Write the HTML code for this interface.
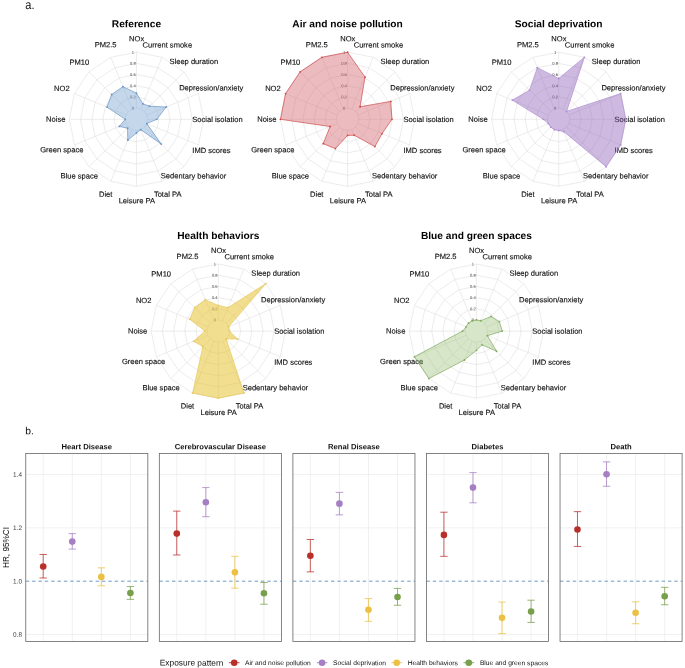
<!DOCTYPE html><html><head><meta charset="utf-8"><style>html,body{margin:0;padding:0;background:#fff;}svg{display:block;will-change:transform;}</style></head><body>
<svg width="685" height="668" viewBox="0 0 685 668" font-family='"Liberation Sans", sans-serif'>
<rect width="685" height="668" fill="#fff"/>
<text x="25.3" y="9.05" font-size="11" fill="#111" transform="translate(0 9.05) scale(1 1.15) translate(0 -9.05) rotate(0.05 25.3 9.05)">a.</text>
<text x="25.3" y="434.3" transform="rotate(0.05 25.3 434.3)" font-size="10.3" fill="#111">b.</text>
<g fill="none" stroke="#dcdcdc" stroke-width="0.55"><polygon points="136.45,108.12 140.73,108.97 144.36,111.39 146.78,115.02 147.63,119.3 146.78,123.58 144.36,127.21 140.73,129.63 136.45,130.48 132.17,129.63 128.54,127.21 126.12,123.58 125.27,119.3 126.12,115.02 128.54,111.39 132.17,108.97"/><polygon points="136.45,96.93 145.01,98.64 152.27,103.48 157.11,110.74 158.82,119.3 157.11,127.86 152.27,135.12 145.01,139.96 136.45,141.67 127.89,139.96 120.63,135.12 115.79,127.86 114.08,119.3 115.79,110.74 120.63,103.48 127.89,98.64"/><polygon points="136.45,85.75 149.29,88.3 160.17,95.58 167.45,106.46 170,119.3 167.45,132.14 160.17,143.02 149.29,150.3 136.45,152.85 123.61,150.3 112.73,143.02 105.45,132.14 102.9,119.3 105.45,106.46 112.73,95.58 123.61,88.3"/><polygon points="136.45,74.57 153.57,77.97 168.08,87.67 177.78,102.18 181.18,119.3 177.78,136.42 168.08,150.93 153.57,160.63 136.45,164.03 119.33,160.63 104.82,150.93 95.12,136.42 91.72,119.3 95.12,102.18 104.82,87.67 119.33,77.97"/><polygon points="136.45,63.38 157.85,67.64 175.99,79.76 188.11,97.9 192.37,119.3 188.11,140.7 175.99,158.84 157.85,170.96 136.45,175.22 115.05,170.96 96.91,158.84 84.79,140.7 80.53,119.3 84.79,97.9 96.91,79.76 115.05,67.64"/><polygon points="136.45,52.2 162.13,57.31 183.9,71.85 198.44,93.62 203.55,119.3 198.44,144.98 183.9,166.75 162.13,181.29 136.45,186.4 110.77,181.29 89,166.75 74.46,144.98 69.35,119.3 74.46,93.62 89,71.85 110.77,57.31"/><line x1="136.45" y1="108.12" x2="136.45" y2="52.2"/><line x1="140.73" y1="108.97" x2="162.13" y2="57.31"/><line x1="144.36" y1="111.39" x2="183.9" y2="71.85"/><line x1="146.78" y1="115.02" x2="198.44" y2="93.62"/><line x1="147.63" y1="119.3" x2="203.55" y2="119.3"/><line x1="146.78" y1="123.58" x2="198.44" y2="144.98"/><line x1="144.36" y1="127.21" x2="183.9" y2="166.75"/><line x1="140.73" y1="129.63" x2="162.13" y2="181.29"/><line x1="136.45" y1="130.48" x2="136.45" y2="186.4"/><line x1="132.17" y1="129.63" x2="110.77" y2="181.29"/><line x1="128.54" y1="127.21" x2="89" y2="166.75"/><line x1="126.12" y1="123.58" x2="74.46" y2="144.98"/><line x1="125.27" y1="119.3" x2="69.35" y2="119.3"/><line x1="126.12" y1="115.02" x2="74.46" y2="93.62"/><line x1="128.54" y1="111.39" x2="89" y2="71.85"/><line x1="132.17" y1="108.97" x2="110.77" y2="57.31"/></g>
<g font-size="4.1" fill="#3a3a3a" text-anchor="middle"><text x="132.95" y="109.57" transform="rotate(0.05 132.95 109.57)">0</text><text x="132.95" y="98.38" transform="rotate(0.05 132.95 98.38)">0.2</text><text x="132.95" y="87.2" transform="rotate(0.05 132.95 87.2)">0.4</text><text x="132.95" y="76.02" transform="rotate(0.05 132.95 76.02)">0.6</text><text x="132.95" y="64.83" transform="rotate(0.05 132.95 64.83)">0.8</text><text x="132.95" y="53.65" transform="rotate(0.05 132.95 53.65)">1</text></g>
<g font-size="7.55" fill="#111" stroke="#111" stroke-width="0.14" text-anchor="middle"><text x="136.65" y="41.24" transform="rotate(0.05 136.65 41.24)">NOx</text><text x="167.35" y="47.5" transform="rotate(0.05 167.35 47.5)">Current smoke</text><text x="193.85" y="64" transform="rotate(0.05 193.85 64)">Sleep duration</text><text x="211.25" y="90.4" transform="rotate(0.05 211.25 90.4)">Depression/anxiety</text><text x="217.45" y="122" transform="rotate(0.05 217.45 122)">Social isolation</text><text x="211.45" y="153" transform="rotate(0.05 211.45 153)">IMD scores</text><text x="193.55" y="178.4" transform="rotate(0.05 193.55 178.4)">Sedentary behavior</text><text x="167.65" y="196.8" transform="rotate(0.05 167.65 196.8)">Total PA</text><text x="136.85" y="203.3" transform="rotate(0.05 136.85 203.3)">Leisure PA</text><text x="105.65" y="196.8" transform="rotate(0.05 105.65 196.8)">Diet</text><text x="79.25" y="178.4" transform="rotate(0.05 79.25 178.4)">Blue space</text><text x="61.75" y="152.3" transform="rotate(0.05 61.75 152.3)">Green space</text><text x="55.75" y="121.8" transform="rotate(0.05 55.75 121.8)">Noise</text><text x="61.85" y="91.1" transform="rotate(0.05 61.85 91.1)">NO2</text><text x="79.35" y="64.7" transform="rotate(0.05 79.35 64.7)">PM10</text><text x="105.65" y="47.2" transform="rotate(0.05 105.65 47.2)">PM2.5</text></g>
<polygon points="136.45,93.24 142.87,103.8 149.54,106.21 166.15,107 156.8,119.3 146.78,123.58 161.24,144.09 140.73,129.63 136.45,132.94 127.78,140.22 127.59,128.16 119.3,126.4 125.27,119.3 107,107.1 111.66,94.51 122.93,86.65" fill="#7ea6d2" fill-opacity="0.45" stroke="none"/>
<polygon points="136.45,93.24 142.87,103.8 149.54,106.21 166.15,107 156.8,119.3 146.78,123.58 161.24,144.09 140.73,129.63 136.45,132.94 127.78,140.22 127.59,128.16 119.3,126.4 125.27,119.3 107,107.1 111.66,94.51 122.93,86.65" fill="none" stroke="#6893c8" stroke-width="0.7" stroke-linejoin="round"/>
<g fill="#6893c8"><circle cx="136.45" cy="93.24" r="0.9"/><circle cx="142.87" cy="103.8" r="0.9"/><circle cx="149.54" cy="106.21" r="0.9"/><circle cx="166.15" cy="107" r="0.9"/><circle cx="156.8" cy="119.3" r="0.9"/><circle cx="146.78" cy="123.58" r="0.9"/><circle cx="161.24" cy="144.09" r="0.9"/><circle cx="140.73" cy="129.63" r="0.9"/><circle cx="136.45" cy="132.94" r="0.9"/><circle cx="127.78" cy="140.22" r="0.9"/><circle cx="127.59" cy="128.16" r="0.9"/><circle cx="119.3" cy="126.4" r="0.9"/><circle cx="125.27" cy="119.3" r="0.9"/><circle cx="107" cy="107.1" r="0.9"/><circle cx="111.66" cy="94.51" r="0.9"/><circle cx="122.93" cy="86.65" r="0.9"/></g>
<text x="136.45" y="27.2" transform="rotate(0.05 136.45 27.2)" font-size="10.2" font-weight="bold" text-anchor="middle" fill="#000">Reference</text>
<g fill="none" stroke="#dcdcdc" stroke-width="0.55"><polygon points="347.55,108.12 351.83,108.97 355.46,111.39 357.88,115.02 358.73,119.3 357.88,123.58 355.46,127.21 351.83,129.63 347.55,130.48 343.27,129.63 339.64,127.21 337.22,123.58 336.37,119.3 337.22,115.02 339.64,111.39 343.27,108.97"/><polygon points="347.55,96.93 356.11,98.64 363.37,103.48 368.21,110.74 369.92,119.3 368.21,127.86 363.37,135.12 356.11,139.96 347.55,141.67 338.99,139.96 331.73,135.12 326.89,127.86 325.18,119.3 326.89,110.74 331.73,103.48 338.99,98.64"/><polygon points="347.55,85.75 360.39,88.3 371.27,95.58 378.55,106.46 381.1,119.3 378.55,132.14 371.27,143.02 360.39,150.3 347.55,152.85 334.71,150.3 323.83,143.02 316.55,132.14 314,119.3 316.55,106.46 323.83,95.58 334.71,88.3"/><polygon points="347.55,74.57 364.67,77.97 379.18,87.67 388.88,102.18 392.28,119.3 388.88,136.42 379.18,150.93 364.67,160.63 347.55,164.03 330.43,160.63 315.92,150.93 306.22,136.42 302.82,119.3 306.22,102.18 315.92,87.67 330.43,77.97"/><polygon points="347.55,63.38 368.95,67.64 387.09,79.76 399.21,97.9 403.47,119.3 399.21,140.7 387.09,158.84 368.95,170.96 347.55,175.22 326.15,170.96 308.01,158.84 295.89,140.7 291.63,119.3 295.89,97.9 308.01,79.76 326.15,67.64"/><polygon points="347.55,52.2 373.23,57.31 395,71.85 409.54,93.62 414.65,119.3 409.54,144.98 395,166.75 373.23,181.29 347.55,186.4 321.87,181.29 300.1,166.75 285.56,144.98 280.45,119.3 285.56,93.62 300.1,71.85 321.87,57.31"/><line x1="347.55" y1="108.12" x2="347.55" y2="52.2"/><line x1="351.83" y1="108.97" x2="373.23" y2="57.31"/><line x1="355.46" y1="111.39" x2="395" y2="71.85"/><line x1="357.88" y1="115.02" x2="409.54" y2="93.62"/><line x1="358.73" y1="119.3" x2="414.65" y2="119.3"/><line x1="357.88" y1="123.58" x2="409.54" y2="144.98"/><line x1="355.46" y1="127.21" x2="395" y2="166.75"/><line x1="351.83" y1="129.63" x2="373.23" y2="181.29"/><line x1="347.55" y1="130.48" x2="347.55" y2="186.4"/><line x1="343.27" y1="129.63" x2="321.87" y2="181.29"/><line x1="339.64" y1="127.21" x2="300.1" y2="166.75"/><line x1="337.22" y1="123.58" x2="285.56" y2="144.98"/><line x1="336.37" y1="119.3" x2="280.45" y2="119.3"/><line x1="337.22" y1="115.02" x2="285.56" y2="93.62"/><line x1="339.64" y1="111.39" x2="300.1" y2="71.85"/><line x1="343.27" y1="108.97" x2="321.87" y2="57.31"/></g>
<g font-size="4.1" fill="#3a3a3a" text-anchor="middle"><text x="344.05" y="109.57" transform="rotate(0.05 344.05 109.57)">0</text><text x="344.05" y="98.38" transform="rotate(0.05 344.05 98.38)">0.2</text><text x="344.05" y="87.2" transform="rotate(0.05 344.05 87.2)">0.4</text><text x="344.05" y="76.02" transform="rotate(0.05 344.05 76.02)">0.6</text><text x="344.05" y="64.83" transform="rotate(0.05 344.05 64.83)">0.8</text><text x="344.05" y="53.65" transform="rotate(0.05 344.05 53.65)">1</text></g>
<g font-size="7.55" fill="#111" stroke="#111" stroke-width="0.14" text-anchor="middle"><text x="347.75" y="41.24" transform="rotate(0.05 347.75 41.24)">NOx</text><text x="378.45" y="47.5" transform="rotate(0.05 378.45 47.5)">Current smoke</text><text x="404.95" y="64" transform="rotate(0.05 404.95 64)">Sleep duration</text><text x="422.35" y="90.4" transform="rotate(0.05 422.35 90.4)">Depression/anxiety</text><text x="428.55" y="122" transform="rotate(0.05 428.55 122)">Social isolation</text><text x="422.55" y="153" transform="rotate(0.05 422.55 153)">IMD scores</text><text x="404.65" y="178.4" transform="rotate(0.05 404.65 178.4)">Sedentary behavior</text><text x="378.75" y="196.8" transform="rotate(0.05 378.75 196.8)">Total PA</text><text x="347.95" y="203.3" transform="rotate(0.05 347.95 203.3)">Leisure PA</text><text x="316.75" y="196.8" transform="rotate(0.05 316.75 196.8)">Diet</text><text x="290.35" y="178.4" transform="rotate(0.05 290.35 178.4)">Blue space</text><text x="272.85" y="152.3" transform="rotate(0.05 272.85 152.3)">Green space</text><text x="266.85" y="121.8" transform="rotate(0.05 266.85 121.8)">Noise</text><text x="272.95" y="91.1" transform="rotate(0.05 272.95 91.1)">NO2</text><text x="290.45" y="64.7" transform="rotate(0.05 290.45 64.7)">PM10</text><text x="316.75" y="47.2" transform="rotate(0.05 316.75 47.2)">PM2.5</text></g>
<polygon points="347.55,52.2 365.03,77.09 360.08,106.77 390.79,101.39 391.95,119.3 382.06,133.59 374.87,146.62 354.12,135.16 347.55,135.4 335.44,148.54 323.19,143.66 330.14,126.51 280.45,119.3 285.56,93.62 300.1,71.85 321.87,57.31" fill="#d26871" fill-opacity="0.45" stroke="none"/>
<polygon points="347.55,52.2 365.03,77.09 360.08,106.77 390.79,101.39 391.95,119.3 382.06,133.59 374.87,146.62 354.12,135.16 347.55,135.4 335.44,148.54 323.19,143.66 330.14,126.51 280.45,119.3 285.56,93.62 300.1,71.85 321.87,57.31" fill="none" stroke="#d04a4a" stroke-width="0.7" stroke-linejoin="round"/>
<g fill="#d04a4a"><circle cx="347.55" cy="52.2" r="0.9"/><circle cx="365.03" cy="77.09" r="0.9"/><circle cx="360.08" cy="106.77" r="0.9"/><circle cx="390.79" cy="101.39" r="0.9"/><circle cx="391.95" cy="119.3" r="0.9"/><circle cx="382.06" cy="133.59" r="0.9"/><circle cx="374.87" cy="146.62" r="0.9"/><circle cx="354.12" cy="135.16" r="0.9"/><circle cx="347.55" cy="135.4" r="0.9"/><circle cx="335.44" cy="148.54" r="0.9"/><circle cx="323.19" cy="143.66" r="0.9"/><circle cx="330.14" cy="126.51" r="0.9"/><circle cx="280.45" cy="119.3" r="0.9"/><circle cx="285.56" cy="93.62" r="0.9"/><circle cx="300.1" cy="71.85" r="0.9"/><circle cx="321.87" cy="57.31" r="0.9"/></g>
<text x="347.55" y="27.2" transform="rotate(0.05 347.55 27.2)" font-size="10.2" font-weight="bold" text-anchor="middle" fill="#000">Air and noise pollution</text>
<g fill="none" stroke="#dcdcdc" stroke-width="0.55"><polygon points="558.7,108.12 562.98,108.97 566.61,111.39 569.03,115.02 569.88,119.3 569.03,123.58 566.61,127.21 562.98,129.63 558.7,130.48 554.42,129.63 550.79,127.21 548.37,123.58 547.52,119.3 548.37,115.02 550.79,111.39 554.42,108.97"/><polygon points="558.7,96.93 567.26,98.64 574.52,103.48 579.36,110.74 581.07,119.3 579.36,127.86 574.52,135.12 567.26,139.96 558.7,141.67 550.14,139.96 542.88,135.12 538.04,127.86 536.33,119.3 538.04,110.74 542.88,103.48 550.14,98.64"/><polygon points="558.7,85.75 571.54,88.3 582.42,95.58 589.7,106.46 592.25,119.3 589.7,132.14 582.42,143.02 571.54,150.3 558.7,152.85 545.86,150.3 534.98,143.02 527.7,132.14 525.15,119.3 527.7,106.46 534.98,95.58 545.86,88.3"/><polygon points="558.7,74.57 575.82,77.97 590.33,87.67 600.03,102.18 603.43,119.3 600.03,136.42 590.33,150.93 575.82,160.63 558.7,164.03 541.58,160.63 527.07,150.93 517.37,136.42 513.97,119.3 517.37,102.18 527.07,87.67 541.58,77.97"/><polygon points="558.7,63.38 580.1,67.64 598.24,79.76 610.36,97.9 614.62,119.3 610.36,140.7 598.24,158.84 580.1,170.96 558.7,175.22 537.3,170.96 519.16,158.84 507.04,140.7 502.78,119.3 507.04,97.9 519.16,79.76 537.3,67.64"/><polygon points="558.7,52.2 584.38,57.31 606.15,71.85 620.69,93.62 625.8,119.3 620.69,144.98 606.15,166.75 584.38,181.29 558.7,186.4 533.02,181.29 511.25,166.75 496.71,144.98 491.6,119.3 496.71,93.62 511.25,71.85 533.02,57.31"/><line x1="558.7" y1="108.12" x2="558.7" y2="52.2"/><line x1="562.98" y1="108.97" x2="584.38" y2="57.31"/><line x1="566.61" y1="111.39" x2="606.15" y2="71.85"/><line x1="569.03" y1="115.02" x2="620.69" y2="93.62"/><line x1="569.88" y1="119.3" x2="625.8" y2="119.3"/><line x1="569.03" y1="123.58" x2="620.69" y2="144.98"/><line x1="566.61" y1="127.21" x2="606.15" y2="166.75"/><line x1="562.98" y1="129.63" x2="584.38" y2="181.29"/><line x1="558.7" y1="130.48" x2="558.7" y2="186.4"/><line x1="554.42" y1="129.63" x2="533.02" y2="181.29"/><line x1="550.79" y1="127.21" x2="511.25" y2="166.75"/><line x1="548.37" y1="123.58" x2="496.71" y2="144.98"/><line x1="547.52" y1="119.3" x2="491.6" y2="119.3"/><line x1="548.37" y1="115.02" x2="496.71" y2="93.62"/><line x1="550.79" y1="111.39" x2="511.25" y2="71.85"/><line x1="554.42" y1="108.97" x2="533.02" y2="57.31"/></g>
<g font-size="4.1" fill="#3a3a3a" text-anchor="middle"><text x="555.2" y="109.57" transform="rotate(0.05 555.2 109.57)">0</text><text x="555.2" y="98.38" transform="rotate(0.05 555.2 98.38)">0.2</text><text x="555.2" y="87.2" transform="rotate(0.05 555.2 87.2)">0.4</text><text x="555.2" y="76.02" transform="rotate(0.05 555.2 76.02)">0.6</text><text x="555.2" y="64.83" transform="rotate(0.05 555.2 64.83)">0.8</text><text x="555.2" y="53.65" transform="rotate(0.05 555.2 53.65)">1</text></g>
<g font-size="7.55" fill="#111" stroke="#111" stroke-width="0.14" text-anchor="middle"><text x="558.9" y="41.24" transform="rotate(0.05 558.9 41.24)">NOx</text><text x="589.6" y="47.5" transform="rotate(0.05 589.6 47.5)">Current smoke</text><text x="616.1" y="64" transform="rotate(0.05 616.1 64)">Sleep duration</text><text x="633.5" y="90.4" transform="rotate(0.05 633.5 90.4)">Depression/anxiety</text><text x="639.7" y="122" transform="rotate(0.05 639.7 122)">Social isolation</text><text x="633.7" y="153" transform="rotate(0.05 633.7 153)">IMD scores</text><text x="615.8" y="178.4" transform="rotate(0.05 615.8 178.4)">Sedentary behavior</text><text x="589.9" y="196.8" transform="rotate(0.05 589.9 196.8)">Total PA</text><text x="559.1" y="203.3" transform="rotate(0.05 559.1 203.3)">Leisure PA</text><text x="527.9" y="196.8" transform="rotate(0.05 527.9 196.8)">Diet</text><text x="501.5" y="178.4" transform="rotate(0.05 501.5 178.4)">Blue space</text><text x="484" y="152.3" transform="rotate(0.05 484 152.3)">Green space</text><text x="478" y="121.8" transform="rotate(0.05 478 121.8)">Noise</text><text x="484.1" y="91.1" transform="rotate(0.05 484.1 91.1)">NO2</text><text x="501.6" y="64.7" transform="rotate(0.05 501.6 64.7)">PM10</text><text x="527.9" y="47.2" transform="rotate(0.05 527.9 47.2)">PM2.5</text></g>
<polygon points="558.7,78.48 584.38,57.31 566.61,111.39 620.69,93.62 625.8,119.3 620.69,144.98 606.15,166.75 563.84,131.7 558.7,130.48 554.42,129.63 550.79,127.21 548.37,123.58 543.32,119.3 512.36,100.11 529.56,90.16 537.3,67.64" fill="#8b5ab8" fill-opacity="0.42" stroke="none"/>
<polygon points="558.7,78.48 584.38,57.31 566.61,111.39 620.69,93.62 625.8,119.3 620.69,144.98 606.15,166.75 563.84,131.7 558.7,130.48 554.42,129.63 550.79,127.21 548.37,123.58 543.32,119.3 512.36,100.11 529.56,90.16 537.3,67.64" fill="none" stroke="#b08fd0" stroke-width="0.7" stroke-linejoin="round"/>
<g fill="#b08fd0"><circle cx="558.7" cy="78.48" r="0.9"/><circle cx="584.38" cy="57.31" r="0.9"/><circle cx="566.61" cy="111.39" r="0.9"/><circle cx="620.69" cy="93.62" r="0.9"/><circle cx="625.8" cy="119.3" r="0.9"/><circle cx="620.69" cy="144.98" r="0.9"/><circle cx="606.15" cy="166.75" r="0.9"/><circle cx="563.84" cy="131.7" r="0.9"/><circle cx="558.7" cy="130.48" r="0.9"/><circle cx="554.42" cy="129.63" r="0.9"/><circle cx="550.79" cy="127.21" r="0.9"/><circle cx="548.37" cy="123.58" r="0.9"/><circle cx="543.32" cy="119.3" r="0.9"/><circle cx="512.36" cy="100.11" r="0.9"/><circle cx="529.56" cy="90.16" r="0.9"/><circle cx="537.3" cy="67.64" r="0.9"/></g>
<text x="558.7" y="27.2" transform="rotate(0.05 558.7 27.2)" font-size="10.2" font-weight="bold" text-anchor="middle" fill="#000">Social deprivation</text>
<g fill="none" stroke="#dcdcdc" stroke-width="0.55"><polygon points="218.3,319.92 222.58,320.77 226.21,323.19 228.63,326.82 229.48,331.1 228.63,335.38 226.21,339.01 222.58,341.43 218.3,342.28 214.02,341.43 210.39,339.01 207.97,335.38 207.12,331.1 207.97,326.82 210.39,323.19 214.02,320.77"/><polygon points="218.3,308.73 226.86,310.44 234.12,315.28 238.96,322.54 240.67,331.1 238.96,339.66 234.12,346.92 226.86,351.76 218.3,353.47 209.74,351.76 202.48,346.92 197.64,339.66 195.93,331.1 197.64,322.54 202.48,315.28 209.74,310.44"/><polygon points="218.3,297.55 231.14,300.1 242.02,307.38 249.3,318.26 251.85,331.1 249.3,343.94 242.02,354.82 231.14,362.1 218.3,364.65 205.46,362.1 194.58,354.82 187.3,343.94 184.75,331.1 187.3,318.26 194.58,307.38 205.46,300.1"/><polygon points="218.3,286.37 235.42,289.77 249.93,299.47 259.63,313.98 263.03,331.1 259.63,348.22 249.93,362.73 235.42,372.43 218.3,375.83 201.18,372.43 186.67,362.73 176.97,348.22 173.57,331.1 176.97,313.98 186.67,299.47 201.18,289.77"/><polygon points="218.3,275.18 239.7,279.44 257.84,291.56 269.96,309.7 274.22,331.1 269.96,352.5 257.84,370.64 239.7,382.76 218.3,387.02 196.9,382.76 178.76,370.64 166.64,352.5 162.38,331.1 166.64,309.7 178.76,291.56 196.9,279.44"/><polygon points="218.3,264 243.98,269.11 265.75,283.65 280.29,305.42 285.4,331.1 280.29,356.78 265.75,378.55 243.98,393.09 218.3,398.2 192.62,393.09 170.85,378.55 156.31,356.78 151.2,331.1 156.31,305.42 170.85,283.65 192.62,269.11"/><line x1="218.3" y1="319.92" x2="218.3" y2="264"/><line x1="222.58" y1="320.77" x2="243.98" y2="269.11"/><line x1="226.21" y1="323.19" x2="265.75" y2="283.65"/><line x1="228.63" y1="326.82" x2="280.29" y2="305.42"/><line x1="229.48" y1="331.1" x2="285.4" y2="331.1"/><line x1="228.63" y1="335.38" x2="280.29" y2="356.78"/><line x1="226.21" y1="339.01" x2="265.75" y2="378.55"/><line x1="222.58" y1="341.43" x2="243.98" y2="393.09"/><line x1="218.3" y1="342.28" x2="218.3" y2="398.2"/><line x1="214.02" y1="341.43" x2="192.62" y2="393.09"/><line x1="210.39" y1="339.01" x2="170.85" y2="378.55"/><line x1="207.97" y1="335.38" x2="156.31" y2="356.78"/><line x1="207.12" y1="331.1" x2="151.2" y2="331.1"/><line x1="207.97" y1="326.82" x2="156.31" y2="305.42"/><line x1="210.39" y1="323.19" x2="170.85" y2="283.65"/><line x1="214.02" y1="320.77" x2="192.62" y2="269.11"/></g>
<g font-size="4.1" fill="#3a3a3a" text-anchor="middle"><text x="214.8" y="321.37" transform="rotate(0.05 214.8 321.37)">0</text><text x="214.8" y="310.18" transform="rotate(0.05 214.8 310.18)">0.2</text><text x="214.8" y="299" transform="rotate(0.05 214.8 299)">0.4</text><text x="214.8" y="287.82" transform="rotate(0.05 214.8 287.82)">0.6</text><text x="214.8" y="276.63" transform="rotate(0.05 214.8 276.63)">0.8</text><text x="214.8" y="265.45" transform="rotate(0.05 214.8 265.45)">1</text></g>
<g font-size="7.55" fill="#111" stroke="#111" stroke-width="0.14" text-anchor="middle"><text x="218.5" y="253.04" transform="rotate(0.05 218.5 253.04)">NOx</text><text x="249.2" y="259.3" transform="rotate(0.05 249.2 259.3)">Current smoke</text><text x="275.7" y="275.8" transform="rotate(0.05 275.7 275.8)">Sleep duration</text><text x="293.1" y="302.2" transform="rotate(0.05 293.1 302.2)">Depression/anxiety</text><text x="299.3" y="333.8" transform="rotate(0.05 299.3 333.8)">Social isolation</text><text x="293.3" y="364.8" transform="rotate(0.05 293.3 364.8)">IMD scores</text><text x="275.4" y="390.2" transform="rotate(0.05 275.4 390.2)">Sedentary behavior</text><text x="249.5" y="408.6" transform="rotate(0.05 249.5 408.6)">Total PA</text><text x="218.7" y="415.1" transform="rotate(0.05 218.7 415.1)">Leisure PA</text><text x="187.5" y="408.6" transform="rotate(0.05 187.5 408.6)">Diet</text><text x="161.1" y="390.2" transform="rotate(0.05 161.1 390.2)">Blue space</text><text x="143.6" y="364.1" transform="rotate(0.05 143.6 364.1)">Green space</text><text x="137.6" y="333.6" transform="rotate(0.05 137.6 333.6)">Noise</text><text x="143.7" y="302.9" transform="rotate(0.05 143.7 302.9)">NO2</text><text x="161.2" y="276.5" transform="rotate(0.05 161.2 276.5)">PM10</text><text x="187.5" y="259" transform="rotate(0.05 187.5 259)">PM2.5</text></g>
<polygon points="218.3,305.49 228.04,307.59 265.75,283.65 228.63,326.82 229.48,331.1 237.57,339.08 226.21,339.01 243.98,393.09 218.3,398.2 192.62,393.09 202.88,346.52 193.5,341.37 204.94,331.1 189.73,319.27 194.81,307.61 205.31,299.74" fill="#e6c233" fill-opacity="0.55" stroke="none"/>
<polygon points="218.3,305.49 228.04,307.59 265.75,283.65 228.63,326.82 229.48,331.1 237.57,339.08 226.21,339.01 243.98,393.09 218.3,398.2 192.62,393.09 202.88,346.52 193.5,341.37 204.94,331.1 189.73,319.27 194.81,307.61 205.31,299.74" fill="none" stroke="#e8c95e" stroke-width="0.7" stroke-linejoin="round"/>
<g fill="#e8c95e"><circle cx="218.3" cy="305.49" r="0.9"/><circle cx="228.04" cy="307.59" r="0.9"/><circle cx="265.75" cy="283.65" r="0.9"/><circle cx="228.63" cy="326.82" r="0.9"/><circle cx="229.48" cy="331.1" r="0.9"/><circle cx="237.57" cy="339.08" r="0.9"/><circle cx="226.21" cy="339.01" r="0.9"/><circle cx="243.98" cy="393.09" r="0.9"/><circle cx="218.3" cy="398.2" r="0.9"/><circle cx="192.62" cy="393.09" r="0.9"/><circle cx="202.88" cy="346.52" r="0.9"/><circle cx="193.5" cy="341.37" r="0.9"/><circle cx="204.94" cy="331.1" r="0.9"/><circle cx="189.73" cy="319.27" r="0.9"/><circle cx="194.81" cy="307.61" r="0.9"/><circle cx="205.31" cy="299.74" r="0.9"/></g>
<text x="218.3" y="239" transform="rotate(0.05 218.3 239)" font-size="10.2" font-weight="bold" text-anchor="middle" fill="#000">Health behaviors</text>
<g fill="none" stroke="#dcdcdc" stroke-width="0.55"><polygon points="476.4,319.92 480.68,320.77 484.31,323.19 486.73,326.82 487.58,331.1 486.73,335.38 484.31,339.01 480.68,341.43 476.4,342.28 472.12,341.43 468.49,339.01 466.07,335.38 465.22,331.1 466.07,326.82 468.49,323.19 472.12,320.77"/><polygon points="476.4,308.73 484.96,310.44 492.22,315.28 497.06,322.54 498.77,331.1 497.06,339.66 492.22,346.92 484.96,351.76 476.4,353.47 467.84,351.76 460.58,346.92 455.74,339.66 454.03,331.1 455.74,322.54 460.58,315.28 467.84,310.44"/><polygon points="476.4,297.55 489.24,300.1 500.12,307.38 507.4,318.26 509.95,331.1 507.4,343.94 500.12,354.82 489.24,362.1 476.4,364.65 463.56,362.1 452.68,354.82 445.4,343.94 442.85,331.1 445.4,318.26 452.68,307.38 463.56,300.1"/><polygon points="476.4,286.37 493.52,289.77 508.03,299.47 517.73,313.98 521.13,331.1 517.73,348.22 508.03,362.73 493.52,372.43 476.4,375.83 459.28,372.43 444.77,362.73 435.07,348.22 431.67,331.1 435.07,313.98 444.77,299.47 459.28,289.77"/><polygon points="476.4,275.18 497.8,279.44 515.94,291.56 528.06,309.7 532.32,331.1 528.06,352.5 515.94,370.64 497.8,382.76 476.4,387.02 455,382.76 436.86,370.64 424.74,352.5 420.48,331.1 424.74,309.7 436.86,291.56 455,279.44"/><polygon points="476.4,264 502.08,269.11 523.85,283.65 538.39,305.42 543.5,331.1 538.39,356.78 523.85,378.55 502.08,393.09 476.4,398.2 450.72,393.09 428.95,378.55 414.41,356.78 409.3,331.1 414.41,305.42 428.95,283.65 450.72,269.11"/><line x1="476.4" y1="319.92" x2="476.4" y2="264"/><line x1="480.68" y1="320.77" x2="502.08" y2="269.11"/><line x1="484.31" y1="323.19" x2="523.85" y2="283.65"/><line x1="486.73" y1="326.82" x2="538.39" y2="305.42"/><line x1="487.58" y1="331.1" x2="543.5" y2="331.1"/><line x1="486.73" y1="335.38" x2="538.39" y2="356.78"/><line x1="484.31" y1="339.01" x2="523.85" y2="378.55"/><line x1="480.68" y1="341.43" x2="502.08" y2="393.09"/><line x1="476.4" y1="342.28" x2="476.4" y2="398.2"/><line x1="472.12" y1="341.43" x2="450.72" y2="393.09"/><line x1="468.49" y1="339.01" x2="428.95" y2="378.55"/><line x1="466.07" y1="335.38" x2="414.41" y2="356.78"/><line x1="465.22" y1="331.1" x2="409.3" y2="331.1"/><line x1="466.07" y1="326.82" x2="414.41" y2="305.42"/><line x1="468.49" y1="323.19" x2="428.95" y2="283.65"/><line x1="472.12" y1="320.77" x2="450.72" y2="269.11"/></g>
<g font-size="4.1" fill="#3a3a3a" text-anchor="middle"><text x="472.9" y="321.37" transform="rotate(0.05 472.9 321.37)">0</text><text x="472.9" y="310.18" transform="rotate(0.05 472.9 310.18)">0.2</text><text x="472.9" y="299" transform="rotate(0.05 472.9 299)">0.4</text><text x="472.9" y="287.82" transform="rotate(0.05 472.9 287.82)">0.6</text><text x="472.9" y="276.63" transform="rotate(0.05 472.9 276.63)">0.8</text><text x="472.9" y="265.45" transform="rotate(0.05 472.9 265.45)">1</text></g>
<g font-size="7.55" fill="#111" stroke="#111" stroke-width="0.14" text-anchor="middle"><text x="476.6" y="253.04" transform="rotate(0.05 476.6 253.04)">NOx</text><text x="507.3" y="259.3" transform="rotate(0.05 507.3 259.3)">Current smoke</text><text x="533.8" y="275.8" transform="rotate(0.05 533.8 275.8)">Sleep duration</text><text x="551.2" y="302.2" transform="rotate(0.05 551.2 302.2)">Depression/anxiety</text><text x="557.4" y="333.8" transform="rotate(0.05 557.4 333.8)">Social isolation</text><text x="551.4" y="364.8" transform="rotate(0.05 551.4 364.8)">IMD scores</text><text x="533.5" y="390.2" transform="rotate(0.05 533.5 390.2)">Sedentary behavior</text><text x="507.6" y="408.6" transform="rotate(0.05 507.6 408.6)">Total PA</text><text x="476.8" y="415.1" transform="rotate(0.05 476.8 415.1)">Leisure PA</text><text x="445.6" y="408.6" transform="rotate(0.05 445.6 408.6)">Diet</text><text x="419.2" y="390.2" transform="rotate(0.05 419.2 390.2)">Blue space</text><text x="401.7" y="364.1" transform="rotate(0.05 401.7 364.1)">Green space</text><text x="395.7" y="333.6" transform="rotate(0.05 395.7 333.6)">Noise</text><text x="401.8" y="302.9" transform="rotate(0.05 401.8 302.9)">NO2</text><text x="419.3" y="276.5" transform="rotate(0.05 419.3 276.5)">PM10</text><text x="445.6" y="259" transform="rotate(0.05 445.6 259)">PM2.5</text></g>
<polygon points="476.4,319.92 480.68,320.77 491.03,316.47 499.39,321.58 502.29,331.1 487.4,335.66 496.56,351.26 482.07,344.79 476.4,350.28 464.44,359.98 428.95,378.55 414.41,356.78 462.53,331.1 466.07,326.82 468.49,323.19 472.12,320.77" fill="#96be70" fill-opacity="0.38" stroke="none"/>
<polygon points="476.4,319.92 480.68,320.77 491.03,316.47 499.39,321.58 502.29,331.1 487.4,335.66 496.56,351.26 482.07,344.79 476.4,350.28 464.44,359.98 428.95,378.55 414.41,356.78 462.53,331.1 466.07,326.82 468.49,323.19 472.12,320.77" fill="none" stroke="#80ab60" stroke-width="0.7" stroke-linejoin="round"/>
<g fill="#80ab60"><circle cx="476.4" cy="319.92" r="0.9"/><circle cx="480.68" cy="320.77" r="0.9"/><circle cx="491.03" cy="316.47" r="0.9"/><circle cx="499.39" cy="321.58" r="0.9"/><circle cx="502.29" cy="331.1" r="0.9"/><circle cx="487.4" cy="335.66" r="0.9"/><circle cx="496.56" cy="351.26" r="0.9"/><circle cx="482.07" cy="344.79" r="0.9"/><circle cx="476.4" cy="350.28" r="0.9"/><circle cx="464.44" cy="359.98" r="0.9"/><circle cx="428.95" cy="378.55" r="0.9"/><circle cx="414.41" cy="356.78" r="0.9"/><circle cx="462.53" cy="331.1" r="0.9"/><circle cx="466.07" cy="326.82" r="0.9"/><circle cx="468.49" cy="323.19" r="0.9"/><circle cx="472.12" cy="320.77" r="0.9"/></g>
<text x="476.4" y="239" transform="rotate(0.05 476.4 239)" font-size="10.2" font-weight="bold" text-anchor="middle" fill="#000">Blue and green spaces</text>
<g stroke="#ebebeb" stroke-width="0.7"><line x1="25.76" x2="147.82" y1="634.5" y2="634.5"/><line x1="25.76" x2="147.82" y1="527.84" y2="527.84"/><line x1="25.76" x2="147.82" y1="474.5" y2="474.5"/><line x1="43.2" x2="43.2" y1="453.46" y2="641.4"/><line x1="72.26" x2="72.26" y1="453.46" y2="641.4"/><line x1="101.32" x2="101.32" y1="453.46" y2="641.4"/><line x1="130.38" x2="130.38" y1="453.46" y2="641.4"/></g>
<line x1="25.76" x2="147.82" y1="581.2" y2="581.2" stroke="#6795c3" stroke-width="0.95" stroke-dasharray="3.45,2.9"/>
<g stroke="#b9302b" stroke-width="0.9" stroke-opacity="0.85"><line x1="43.2" x2="43.2" y1="554.45" y2="577.99"/><line x1="39.5" x2="46.9" y1="554.45" y2="554.45"/><line x1="39.5" x2="46.9" y1="577.99" y2="577.99"/></g>
<circle cx="43.2" cy="566.49" r="3.3" fill="#b9302b"/>
<g stroke="#a57ec3" stroke-width="0.9" stroke-opacity="0.85"><line x1="72.26" x2="72.26" y1="533.59" y2="549.1"/><line x1="68.56" x2="75.96" y1="533.59" y2="533.59"/><line x1="68.56" x2="75.96" y1="549.1" y2="549.1"/></g>
<circle cx="72.26" cy="541.61" r="3.3" fill="#a57ec3"/>
<g stroke="#ecc043" stroke-width="0.9" stroke-opacity="0.85"><line x1="101.32" x2="101.32" y1="567.83" y2="585.75"/><line x1="97.62" x2="105.02" y1="567.83" y2="567.83"/><line x1="97.62" x2="105.02" y1="585.75" y2="585.75"/></g>
<circle cx="101.32" cy="576.92" r="3.3" fill="#ecc043"/>
<g stroke="#789f4c" stroke-width="0.9" stroke-opacity="0.85"><line x1="130.38" x2="130.38" y1="586.55" y2="599.39"/><line x1="126.68" x2="134.08" y1="586.55" y2="586.55"/><line x1="126.68" x2="134.08" y1="599.39" y2="599.39"/></g>
<circle cx="130.38" cy="592.97" r="3.3" fill="#789f4c"/>
<rect x="25.76" y="453.46" width="122.06" height="187.94" fill="none" stroke="#666" stroke-width="0.8"/>
<text x="86.79" y="449.3" transform="rotate(0.05 86.79 449.3)" font-size="7.65" font-weight="bold" text-anchor="middle" fill="#111">Heart Disease</text>
<g stroke="#ebebeb" stroke-width="0.7"><line x1="159.33" x2="281.39" y1="634.5" y2="634.5"/><line x1="159.33" x2="281.39" y1="527.84" y2="527.84"/><line x1="159.33" x2="281.39" y1="474.5" y2="474.5"/><line x1="176.77" x2="176.77" y1="453.46" y2="641.4"/><line x1="205.83" x2="205.83" y1="453.46" y2="641.4"/><line x1="234.89" x2="234.89" y1="453.46" y2="641.4"/><line x1="263.95" x2="263.95" y1="453.46" y2="641.4"/></g>
<line x1="159.33" x2="281.39" y1="581.2" y2="581.2" stroke="#6795c3" stroke-width="0.95" stroke-dasharray="3.45,2.9"/>
<g stroke="#b9302b" stroke-width="0.9" stroke-opacity="0.85"><line x1="176.77" x2="176.77" y1="511.12" y2="554.99"/><line x1="173.07" x2="180.47" y1="511.12" y2="511.12"/><line x1="173.07" x2="180.47" y1="554.99" y2="554.99"/></g>
<circle cx="176.77" cy="533.59" r="3.3" fill="#b9302b"/>
<g stroke="#a57ec3" stroke-width="0.9" stroke-opacity="0.85"><line x1="205.83" x2="205.83" y1="487.58" y2="516.73"/><line x1="202.13" x2="209.53" y1="487.58" y2="487.58"/><line x1="202.13" x2="209.53" y1="516.73" y2="516.73"/></g>
<circle cx="205.83" cy="502.29" r="3.3" fill="#a57ec3"/>
<g stroke="#ecc043" stroke-width="0.9" stroke-opacity="0.85"><line x1="234.89" x2="234.89" y1="556.32" y2="588.16"/><line x1="231.19" x2="238.59" y1="556.32" y2="556.32"/><line x1="231.19" x2="238.59" y1="588.16" y2="588.16"/></g>
<circle cx="234.89" cy="572.37" r="3.3" fill="#ecc043"/>
<g stroke="#789f4c" stroke-width="0.9" stroke-opacity="0.85"><line x1="263.95" x2="263.95" y1="582.54" y2="604.21"/><line x1="260.25" x2="267.65" y1="582.54" y2="582.54"/><line x1="260.25" x2="267.65" y1="604.21" y2="604.21"/></g>
<circle cx="263.95" cy="593.24" r="3.3" fill="#789f4c"/>
<rect x="159.33" y="453.46" width="122.06" height="187.94" fill="none" stroke="#666" stroke-width="0.8"/>
<text x="220.36" y="449.3" transform="rotate(0.05 220.36 449.3)" font-size="7.65" font-weight="bold" text-anchor="middle" fill="#111">Cerebrovascular Disease</text>
<g stroke="#ebebeb" stroke-width="0.7"><line x1="292.9" x2="414.96" y1="634.5" y2="634.5"/><line x1="292.9" x2="414.96" y1="527.84" y2="527.84"/><line x1="292.9" x2="414.96" y1="474.5" y2="474.5"/><line x1="310.34" x2="310.34" y1="453.46" y2="641.4"/><line x1="339.4" x2="339.4" y1="453.46" y2="641.4"/><line x1="368.46" x2="368.46" y1="453.46" y2="641.4"/><line x1="397.52" x2="397.52" y1="453.46" y2="641.4"/></g>
<line x1="292.9" x2="414.96" y1="581.2" y2="581.2" stroke="#6795c3" stroke-width="0.95" stroke-dasharray="3.45,2.9"/>
<g stroke="#b9302b" stroke-width="0.9" stroke-opacity="0.85"><line x1="310.34" x2="310.34" y1="539.47" y2="571.84"/><line x1="306.64" x2="314.04" y1="539.47" y2="539.47"/><line x1="306.64" x2="314.04" y1="571.84" y2="571.84"/></g>
<circle cx="310.34" cy="555.79" r="3.3" fill="#b9302b"/>
<g stroke="#a57ec3" stroke-width="0.9" stroke-opacity="0.85"><line x1="339.4" x2="339.4" y1="492.39" y2="514.86"/><line x1="335.7" x2="343.1" y1="492.39" y2="492.39"/><line x1="335.7" x2="343.1" y1="514.86" y2="514.86"/></g>
<circle cx="339.4" cy="503.63" r="3.3" fill="#a57ec3"/>
<g stroke="#ecc043" stroke-width="0.9" stroke-opacity="0.85"><line x1="368.46" x2="368.46" y1="598.59" y2="621.33"/><line x1="364.76" x2="372.16" y1="598.59" y2="598.59"/><line x1="364.76" x2="372.16" y1="621.33" y2="621.33"/></g>
<circle cx="368.46" cy="609.82" r="3.3" fill="#ecc043"/>
<g stroke="#789f4c" stroke-width="0.9" stroke-opacity="0.85"><line x1="397.52" x2="397.52" y1="588.42" y2="605.28"/><line x1="393.82" x2="401.22" y1="588.42" y2="588.42"/><line x1="393.82" x2="401.22" y1="605.28" y2="605.28"/></g>
<circle cx="397.52" cy="596.98" r="3.3" fill="#789f4c"/>
<rect x="292.9" y="453.46" width="122.06" height="187.94" fill="none" stroke="#666" stroke-width="0.8"/>
<text x="353.93" y="449.3" transform="rotate(0.05 353.93 449.3)" font-size="7.65" font-weight="bold" text-anchor="middle" fill="#111">Renal Disease</text>
<g stroke="#ebebeb" stroke-width="0.7"><line x1="426.47" x2="548.53" y1="634.5" y2="634.5"/><line x1="426.47" x2="548.53" y1="527.84" y2="527.84"/><line x1="426.47" x2="548.53" y1="474.5" y2="474.5"/><line x1="443.91" x2="443.91" y1="453.46" y2="641.4"/><line x1="472.97" x2="472.97" y1="453.46" y2="641.4"/><line x1="502.03" x2="502.03" y1="453.46" y2="641.4"/><line x1="531.09" x2="531.09" y1="453.46" y2="641.4"/></g>
<line x1="426.47" x2="548.53" y1="581.2" y2="581.2" stroke="#6795c3" stroke-width="0.95" stroke-dasharray="3.45,2.9"/>
<g stroke="#b9302b" stroke-width="0.9" stroke-opacity="0.85"><line x1="443.91" x2="443.91" y1="512.19" y2="556.32"/><line x1="440.21" x2="447.61" y1="512.19" y2="512.19"/><line x1="440.21" x2="447.61" y1="556.32" y2="556.32"/></g>
<circle cx="443.91" cy="534.92" r="3.3" fill="#b9302b"/>
<g stroke="#a57ec3" stroke-width="0.9" stroke-opacity="0.85"><line x1="472.97" x2="472.97" y1="472.6" y2="502.82"/><line x1="469.27" x2="476.67" y1="472.6" y2="472.6"/><line x1="469.27" x2="476.67" y1="502.82" y2="502.82"/></g>
<circle cx="472.97" cy="487.58" r="3.3" fill="#a57ec3"/>
<g stroke="#ecc043" stroke-width="0.9" stroke-opacity="0.85"><line x1="502.03" x2="502.03" y1="602.07" y2="633.63"/><line x1="498.33" x2="505.73" y1="602.07" y2="602.07"/><line x1="498.33" x2="505.73" y1="633.63" y2="633.63"/></g>
<circle cx="502.03" cy="617.85" r="3.3" fill="#ecc043"/>
<g stroke="#789f4c" stroke-width="0.9" stroke-opacity="0.85"><line x1="531.09" x2="531.09" y1="600.19" y2="622.4"/><line x1="527.39" x2="534.79" y1="600.19" y2="600.19"/><line x1="527.39" x2="534.79" y1="622.4" y2="622.4"/></g>
<circle cx="531.09" cy="611.43" r="3.3" fill="#789f4c"/>
<rect x="426.47" y="453.46" width="122.06" height="187.94" fill="none" stroke="#666" stroke-width="0.8"/>
<text x="487.5" y="449.3" transform="rotate(0.05 487.5 449.3)" font-size="7.65" font-weight="bold" text-anchor="middle" fill="#111">Diabetes</text>
<g stroke="#ebebeb" stroke-width="0.7"><line x1="560.04" x2="682.1" y1="634.5" y2="634.5"/><line x1="560.04" x2="682.1" y1="527.84" y2="527.84"/><line x1="560.04" x2="682.1" y1="474.5" y2="474.5"/><line x1="577.48" x2="577.48" y1="453.46" y2="641.4"/><line x1="606.54" x2="606.54" y1="453.46" y2="641.4"/><line x1="635.6" x2="635.6" y1="453.46" y2="641.4"/><line x1="664.66" x2="664.66" y1="453.46" y2="641.4"/></g>
<line x1="560.04" x2="682.1" y1="581.2" y2="581.2" stroke="#6795c3" stroke-width="0.95" stroke-dasharray="3.45,2.9"/>
<g stroke="#b9302b" stroke-width="0.9" stroke-opacity="0.85"><line x1="577.48" x2="577.48" y1="511.65" y2="546.43"/><line x1="573.78" x2="581.18" y1="511.65" y2="511.65"/><line x1="573.78" x2="581.18" y1="546.43" y2="546.43"/></g>
<circle cx="577.48" cy="529.57" r="3.3" fill="#b9302b"/>
<g stroke="#a57ec3" stroke-width="0.9" stroke-opacity="0.85"><line x1="606.54" x2="606.54" y1="461.9" y2="486.24"/><line x1="602.84" x2="610.24" y1="461.9" y2="461.9"/><line x1="602.84" x2="610.24" y1="486.24" y2="486.24"/></g>
<circle cx="606.54" cy="474.2" r="3.3" fill="#a57ec3"/>
<g stroke="#ecc043" stroke-width="0.9" stroke-opacity="0.85"><line x1="635.6" x2="635.6" y1="601.8" y2="623.73"/><line x1="631.9" x2="639.3" y1="601.8" y2="601.8"/><line x1="631.9" x2="639.3" y1="623.73" y2="623.73"/></g>
<circle cx="635.6" cy="612.77" r="3.3" fill="#ecc043"/>
<g stroke="#789f4c" stroke-width="0.9" stroke-opacity="0.85"><line x1="664.66" x2="664.66" y1="587.35" y2="604.74"/><line x1="660.96" x2="668.36" y1="587.35" y2="587.35"/><line x1="660.96" x2="668.36" y1="604.74" y2="604.74"/></g>
<circle cx="664.66" cy="596.18" r="3.3" fill="#789f4c"/>
<rect x="560.04" y="453.46" width="122.06" height="187.94" fill="none" stroke="#666" stroke-width="0.8"/>
<text x="621.07" y="449.3" transform="rotate(0.05 621.07 449.3)" font-size="7.65" font-weight="bold" text-anchor="middle" fill="#111">Death</text>
<text x="22" y="636.8" transform="rotate(0.05 22 636.8)" font-size="6.4" fill="#3d3d3d" text-anchor="end">0.8</text>
<text x="22" y="583.47" transform="rotate(0.05 22 583.47)" font-size="6.4" fill="#3d3d3d" text-anchor="end">1.0</text>
<text x="22" y="530.14" transform="rotate(0.05 22 530.14)" font-size="6.4" fill="#3d3d3d" text-anchor="end">1.2</text>
<text x="22" y="476.8" transform="rotate(0.05 22 476.8)" font-size="6.4" fill="#3d3d3d" text-anchor="end">1.4</text>
<text transform="translate(8.8,547.5) rotate(-90)" font-size="8.2" text-anchor="middle" fill="#111">HR, 95%CI</text>
<text x="159.8" y="665.6" transform="rotate(0.05 159.8 665.6)" font-size="8.36" fill="#111">Exposure pattern</text>
<line x1="228.9" x2="239.5" y1="662.7" y2="662.7" stroke="#b9302b" stroke-width="0.9"/>
<circle cx="234.2" cy="662.7" r="3.3" fill="#b9302b"/>
<text x="245" y="665.1" transform="rotate(0.05 245 665.1)" font-size="6.7" fill="#111">Air and noise pollution</text>
<line x1="316.8" x2="327.4" y1="662.7" y2="662.7" stroke="#a57ec3" stroke-width="0.9"/>
<circle cx="322.1" cy="662.7" r="3.3" fill="#a57ec3"/>
<text x="333.1" y="665.1" transform="rotate(0.05 333.1 665.1)" font-size="6.7" fill="#111">Social deprivation</text>
<line x1="391.4" x2="402" y1="662.7" y2="662.7" stroke="#ecc043" stroke-width="0.9"/>
<circle cx="396.7" cy="662.7" r="3.3" fill="#ecc043"/>
<text x="407.7" y="665.1" transform="rotate(0.05 407.7 665.1)" font-size="6.7" fill="#111">Health behaviors</text>
<line x1="463.5" x2="474.1" y1="662.7" y2="662.7" stroke="#789f4c" stroke-width="0.9"/>
<circle cx="468.8" cy="662.7" r="3.3" fill="#789f4c"/>
<text x="479.9" y="665.1" transform="rotate(0.05 479.9 665.1)" font-size="6.7" fill="#111">Blue and green spaces</text>
</svg></body></html>
